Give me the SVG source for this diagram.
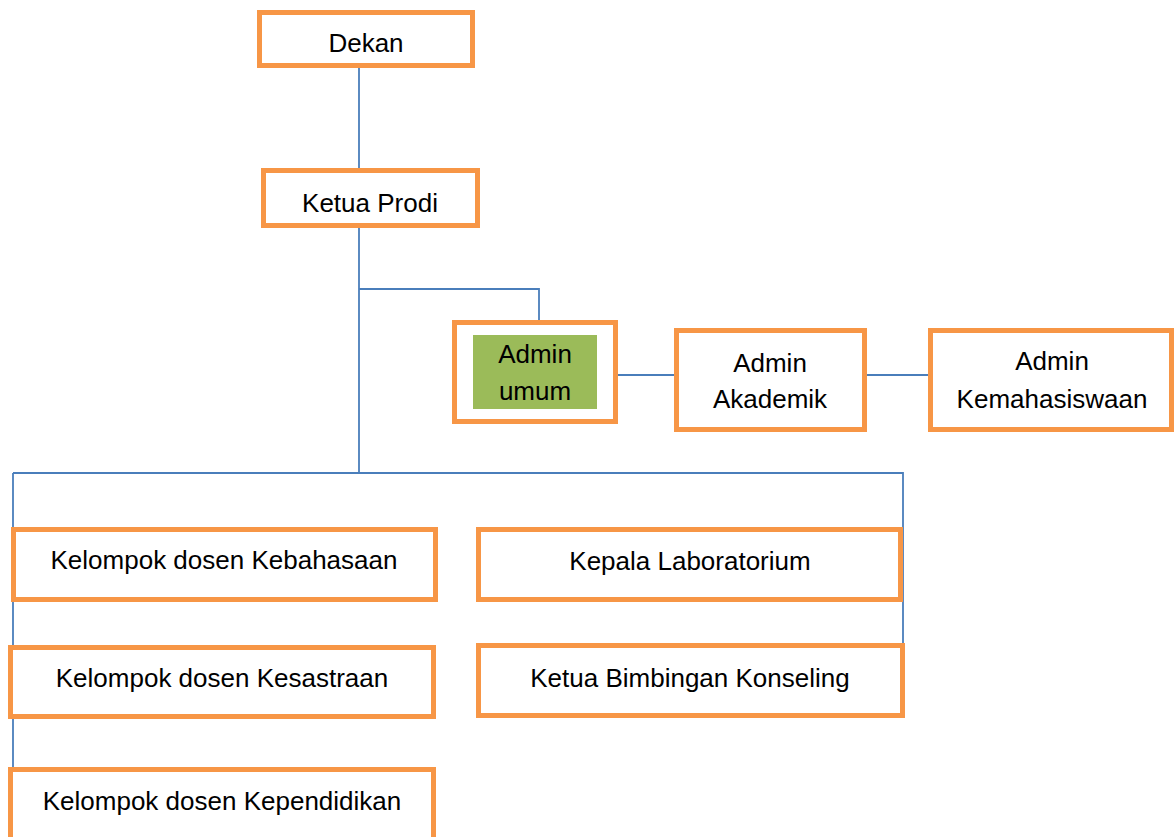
<svg xmlns="http://www.w3.org/2000/svg" width="1175" height="837" viewBox="0 0 1175 837">
<style>
.box{fill:#fff;stroke:#F79646;stroke-width:5}
.lbl{font-family:"Liberation Sans",Arial,sans-serif;font-size:26px;fill:#000;text-anchor:middle}
.con{fill:none;stroke:#4A7EBB;stroke-width:1.8}
</style>
<rect width="1175" height="837" fill="#fff"/>
<g id="connectors">
<path class="con" d="M359 68 V168"/>
<path class="con" d="M359 228 V473"/>
<path class="con" d="M359 289 H539 V322"/>
<path class="con" d="M13 473 H903 V643"/>
<path class="con" d="M13 473 V767"/>
<path class="con" d="M618 375 H677"/>
<path class="con" d="M866 375 H930"/>
</g>
<g id="dekan"><rect class="box" x="259.5" y="12.5" width="213" height="53"/><text class="lbl" x="366" y="52">Dekan</text></g>
<g id="ketua-prodi"><rect class="box" x="263.5" y="170.5" width="214" height="55"/><text class="lbl" x="370" y="212">Ketua Prodi</text></g>
<g id="admin-umum"><rect class="box" x="454.5" y="322.5" width="161" height="99"/><rect x="473" y="335" width="124" height="74" fill="#9BBB59"/><text class="lbl" x="535" y="363">Admin</text><text class="lbl" x="535" y="400">umum</text></g>
<g id="admin-akademik"><rect class="box" x="676.5" y="330.5" width="188" height="99"/><text class="lbl" x="770" y="372">Admin</text><text class="lbl" x="770" y="408">Akademik</text></g>
<g id="admin-kemahasiswaan"><rect class="box" x="930.5" y="330.5" width="241" height="99"/><text class="lbl" x="1052" y="370">Admin</text><text class="lbl" x="1052" y="408">Kemahasiswaan</text></g>
<g id="kebahasaan"><rect class="box" x="13.5" y="529.5" width="422" height="70"/><text class="lbl" x="224" y="569">Kelompok dosen Kebahasaan</text></g>
<g id="kesastraan"><rect class="box" x="10.5" y="647.5" width="423" height="69"/><text class="lbl" x="222" y="687">Kelompok dosen Kesastraan</text></g>
<g id="kependidikan"><rect class="box" x="10.5" y="769.5" width="423" height="75"/><text class="lbl" x="222" y="810">Kelompok dosen Kependidikan</text></g>
<g id="kepala-lab"><rect class="box" x="478.5" y="529.5" width="422" height="70"/><text class="lbl" x="690" y="570">Kepala Laboratorium</text></g>
<g id="ketua-bk"><rect class="box" x="478.5" y="645.5" width="424" height="70"/><text class="lbl" x="690" y="687">Ketua Bimbingan Konseling</text></g>
</svg>
